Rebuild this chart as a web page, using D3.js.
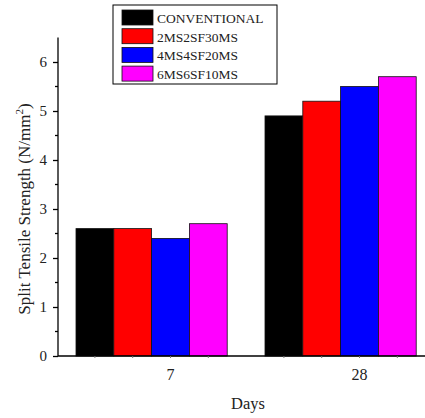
<!DOCTYPE html>
<html>
<head>
<meta charset="utf-8">
<script src="https://cdn.jsdelivr.net/npm/d3@7"></script>
<style>
  body { margin: 0; background: #fff; }
  text { font-family: "Liberation Serif", "Times New Roman", serif; fill: #222; }
  .axis path, .axis line { stroke: #000; stroke-width: 1.3; }
</style>
</head>
<body>
<div id="chart"></div>
<script>
// data
var days = ["7", "28"];
var mixes = ["CONVENTIONAL", "2MS2SF30MS", "4MS4SF20MS", "6MS6SF10MS"];
var conventional = [2.6, 4.9];
var ms2sf30 = [2.6, 5.2];
var ms4sf20 = [2.4, 5.5];
var ms6sf10 = [2.7, 5.7];
var yTicks = [0, 1, 2, 3, 4, 5, 6];

var seriesValues = [conventional, ms2sf30, ms4sf20, ms6sf10];
var colours = ["#000000", "#ff0000", "#0000ff", "#ff00ff"];

var width = 425, height = 418;
var svg = d3.select("#chart").append("svg")
            .attr("width", width)
            .attr("height", height);

// scales
var yScale = d3.scaleLinear().domain([0, 6.5]).range([356, 37.5]);

var xScale = d3.scaleBand()
               .domain(days)
               .range([57.1, 435.1])
               .paddingInner(0.2)
               .paddingOuter(0.1);

var xSub = d3.scaleBand()
             .domain(mixes)
             .range([0, xScale.bandwidth()]);

// bars
var table = [];
days.forEach(function(day, i) {
  mixes.forEach(function(m, j) {
    table.push({day: day, mix: m, value: seriesValues[j][i], colour: colours[j]});
  });
});

svg.append("g").selectAll("rect")
   .data(table)
   .enter()
  .append("rect")
   .attr("x", function(d) { return xScale(d.day) + xSub(d.mix); })
   .attr("y", function(d) { return yScale(d.value); })
   .attr("width", xSub.bandwidth())
   .attr("height", function(d) { return yScale(0) - yScale(d.value); })
   .attr("fill", function(d) { return d.colour; })
   .attr("stroke", "#111")
   .attr("stroke-width", 0.8);

// y axis
var yAxis = d3.axisLeft(yScale)
              .tickValues(yTicks)
              .tickFormat(d3.format("d"))
              .tickSize(5)
              .tickPadding(6);
var gy = svg.append("g")
            .attr("class", "axis")
            .attr("transform", "translate(58,0)")
            .call(yAxis);
gy.select(".domain").attr("d", "M0," + yScale(6.5) + "V" + yScale(0));
gy.selectAll("text").style("font-size", "15px");

// minor y ticks
gy.selectAll(".minor")
  .data(d3.range(0.5, 6.5, 1))
  .enter()
 .append("line")
  .attr("class", "minor")
  .attr("x1", -3).attr("x2", 0)
  .attr("y1", function(d) { return yScale(d); })
  .attr("y2", function(d) { return yScale(d); });

// x axis
var gx = svg.append("g").attr("class", "axis");
gx.append("line")
  .attr("x1", 58).attr("x2", width)
  .attr("y1", yScale(0)).attr("y2", yScale(0));

// minor x ticks
var minorX = [];
days.forEach(function(day) {
  mixes.forEach(function(m) {
    minorX.push(xScale(day) + xSub(m) + xSub.bandwidth() / 2);
  });
});
gx.selectAll(".minor")
  .data(minorX)
  .enter()
 .append("line")
  .attr("class", "minor")
  .attr("x1", function(d) { return d; })
  .attr("x2", function(d) { return d; })
  .attr("y1", yScale(0))
  .attr("y2", yScale(0) + 2)
  .style("stroke", "#777")
  .style("stroke-width", 1);

gx.selectAll(".xlabel")
  .data(days)
  .enter()
 .append("text")
  .attr("class", "xlabel")
  .attr("x", function(d) { return xScale(d) + xScale.bandwidth() / 2 + xScale.step() * 0.1; })
  .attr("y", 380)
  .attr("text-anchor", "middle")
  .style("font-size", "16px")
  .text(function(d) { return d; });

// axis titles
svg.append("text")
   .attr("x", 248)
   .attr("y", 409)
   .attr("text-anchor", "middle")
   .style("font-size", "16.5px")
   .text("Days");

var yt = svg.append("text")
   .attr("transform", "translate(30,209) rotate(-90)")
   .attr("text-anchor", "middle")
   .style("font-size", "17px");
yt.append("tspan").text("Split Tensile Strength (N/mm");
yt.append("tspan").attr("dy", -7).style("font-size", "11px").text("2");
yt.append("tspan").attr("dy", 7).text(")");

// legend
var legend = svg.append("g").attr("transform", "translate(113,5)");
legend.append("rect")
      .attr("width", 164)
      .attr("height", 79)
      .attr("fill", "#fff")
      .attr("stroke", "#000");

legend.selectAll(".legend-rect")
      .data(mixes)
      .enter()
     .append("rect")
      .attr("class", "legend-rect")
      .attr("x", 9)
      .attr("y", function(d, i) { return 5 + 18.7 * i; })
      .attr("width", 31)
      .attr("height", 15)
      .attr("fill", function(d, i) { return colours[i]; })
      .attr("stroke", "#111")
      .attr("stroke-width", 0.8);

legend.selectAll(".legend-text")
      .data(mixes)
      .enter()
     .append("text")
      .attr("class", "legend-text")
      .attr("x", 44)
      .attr("y", function(d, i) { return 18 + 18.7 * i; })
      .style("font-size", "13.5px")
      .text(function(d) { return d; });
</script>
</body>
</html>
